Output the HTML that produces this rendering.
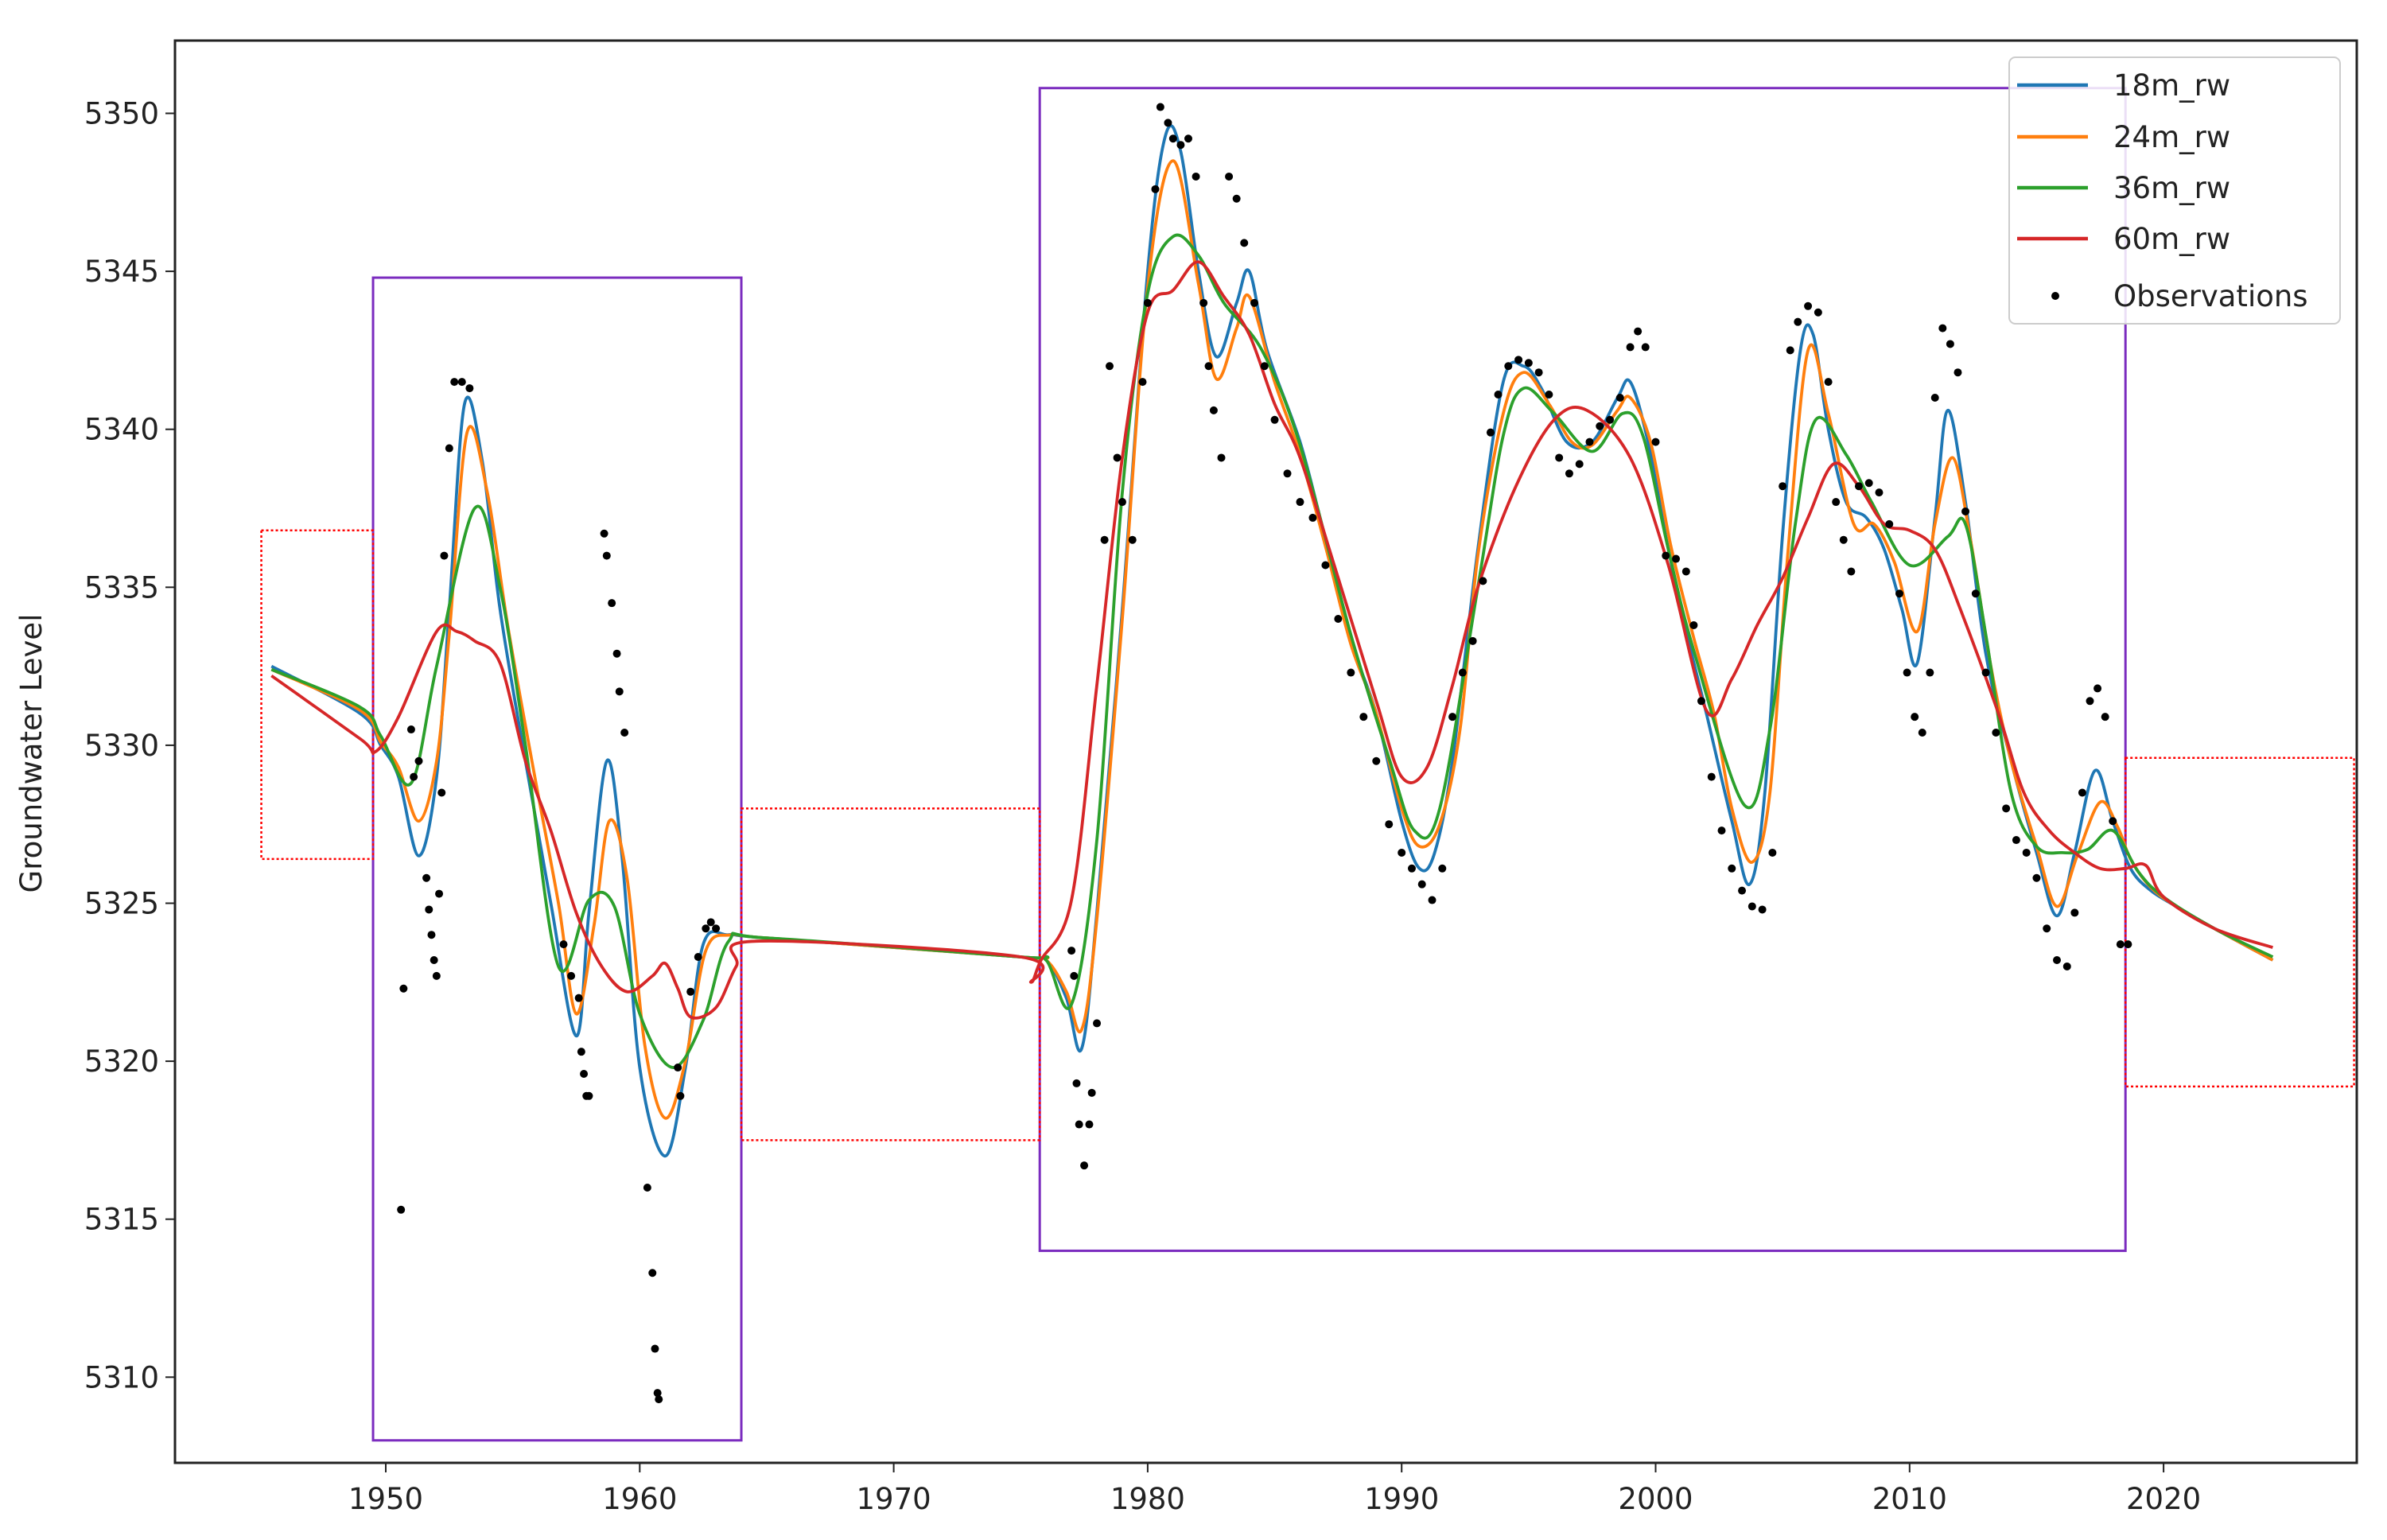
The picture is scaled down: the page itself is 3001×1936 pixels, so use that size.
<!DOCTYPE html>
<html><head><meta charset="utf-8"><style>
html,body{margin:0;padding:0;background:#fff;}
svg{display:block;font-family:"DejaVu Sans","Liberation Sans",sans-serif;}
</style></head><body>
<svg id="chart" width="3001" height="1936" viewBox="0 0 3001 1936" xmlns="http://www.w3.org/2000/svg">
<rect x="0" y="0" width="3001" height="1936" fill="#fff"/>
<g id="plot"></g>
</svg>
<script>
const xTicks=[1950,1960,1970,1980,1990,2000,2010,2020];
const yTicks=[5310,5315,5320,5325,5330,5335,5340,5345,5350];
const seriesNames=['18m_rw','24m_rw','36m_rw','60m_rw'];
const seriesColors=['#1f77b4','#ff7f0e','#2ca02c','#d62728'];
const blueX=[1945.5,1949,1949.8,1950.5,1951.3,1952,1952.5,1953.1,1953.8,1954.5,1955.5,1956.5,1957.5,1958,1958.7,1959.3,1960,1961,1961.8,1962.5,1963.5,1965,1975,1976,1976.8,1977.4,1978,1979,1980,1980.7,1981.3,1982,1982.7,1983.5,1984,1984.7,1986,1987,1988,1989,1990,1990.7,1991.3,1992,1993,1994,1994.8,1995.5,1996.5,1997.5,1998.5,1999,1999.7,2000.5,2001.3,2002,2003,2003.7,2004.3,2005,2005.7,2006.2,2006.8,2007.5,2008.3,2009,2009.7,2010.3,2011,2011.5,2012.2,2013,2014,2015,2015.8,2016.5,2017.3,2018,2018.7,2019.5,2020.5,2022,2024.3];
const blueY=[5332.5,5331.0,5330.0,5329.0,5326.5,5329.0,5334.3,5340.8,5339.0,5334.3,5329.5,5325.0,5320.8,5324.7,5329.5,5326.5,5319.8,5317.0,5319.8,5323.7,5324.0,5323.9,5323.3,5323.2,5322.0,5320.4,5324.7,5334.3,5345.0,5349.3,5348.8,5345.0,5342.3,5344.0,5345.0,5342.5,5339.6,5336.5,5333.3,5331.0,5327.6,5326.1,5326.6,5329.5,5336.2,5341.5,5342.0,5341.3,5339.6,5339.6,5341.0,5341.5,5339.6,5336.2,5333.3,5331.0,5327.6,5325.6,5328.5,5336.7,5342.5,5343.0,5340.0,5337.7,5337.2,5336.2,5334.3,5332.6,5337.2,5340.6,5337.7,5332.9,5329.5,5326.6,5324.6,5326.6,5329.2,5327.6,5326.1,5325.4,5324.9,5324.2,5323.2];
const orangeX=[1945.5,1949,1949.8,1950.5,1951.3,1952,1952.5,1953.2,1954,1954.8,1955.8,1956.8,1957.5,1958.2,1958.8,1959.5,1960.2,1961,1961.8,1962.6,1963.6,1965,1975,1976,1976.8,1977.4,1978,1979,1980,1981,1982,1982.7,1983.5,1984,1985,1986,1987,1988,1989,1990,1990.7,1991.5,1992.3,1993,1994,1994.8,1995.8,1996.7,1997.5,1998.5,1999,1999.8,2000.6,2001.5,2002.3,2003,2003.8,2004.5,2005.2,2006,2006.8,2007.8,2008.6,2009.4,2010.3,2011,2011.7,2012.4,2013.2,2014,2015,2015.8,2016.6,2017.5,2018.2,2018.7,2019.5,2020.5,2022,2024.3];
const orangeY=[5332.4,5331.1,5330.1,5329.3,5327.6,5329.5,5333.5,5339.9,5338.0,5333.8,5329.3,5325.0,5321.5,5324.3,5327.6,5325.8,5320.5,5318.2,5320.0,5323.5,5324.0,5323.9,5323.3,5323.2,5322.2,5321.0,5324.5,5334.0,5344.5,5348.5,5344.6,5341.6,5343.2,5344.2,5341.5,5339.2,5336.3,5333.2,5331.0,5328.0,5326.8,5327.5,5330.5,5336.0,5340.5,5341.8,5340.8,5339.6,5339.5,5340.6,5341.0,5339.6,5336.3,5333.4,5331.0,5328.0,5326.3,5328.5,5336.0,5342.5,5340.5,5337.0,5337.0,5335.8,5333.6,5337.0,5339.1,5336.5,5332.5,5329.5,5326.8,5324.9,5326.5,5328.2,5327.4,5326.4,5325.5,5324.9,5324.2,5323.2];
const greenX=[1945.5,1949,1949.8,1951,1952,1953.5,1954.5,1955.5,1956.8,1958,1959,1960,1961.3,1962.5,1963.5,1965,1975,1976,1977,1978,1979,1980,1981,1982,1983,1984.5,1986,1988,1989.5,1990.5,1991.5,1993,1994,1994.8,1996,1997.5,1998.7,1999.5,2000.5,2001.5,2003.5,2004.5,2005.5,2006.3,2007.5,2008.5,2010,2011.5,2012.2,2013,2014,2015,2016,2017,2018,2019,2020,2022,2024.3];
const greenY=[5332.4,5331.2,5330.3,5328.8,5332.5,5337.5,5335.0,5330.0,5323.0,5325.1,5324.9,5321.5,5319.8,5321.3,5323.8,5323.9,5323.3,5323.2,5321.8,5327.0,5338.0,5344.3,5346.1,5345.5,5344.0,5342.5,5339.5,5333.5,5329.6,5327.3,5328.0,5335.0,5339.8,5341.3,5340.5,5339.3,5340.5,5339.8,5336.2,5333.0,5328.1,5330.5,5337.0,5340.3,5339.2,5337.7,5335.7,5336.6,5337.0,5333.5,5328.5,5326.8,5326.6,5326.7,5327.3,5326.0,5325.2,5324.2,5323.3];
const redX=[1945.5,1949,1949.6,1950.5,1952,1952.8,1953.5,1954.5,1955.5,1956.5,1957.5,1958.5,1959.5,1960.5,1961,1961.5,1962,1963,1963.8,1964.6,1975,1975.4,1975.8,1977,1978,1979,1980,1981,1982,1983,1984,1985,1986,1987.5,1989,1990,1991,1992,1993,1994.5,1996,1997.3,1999,2000.5,2002,2003,2004,2005,2006,2007,2008,2009,2010,2011,2012,2013.5,2014.5,2015.5,2016.5,2017.5,2018.5,2019.3,2020,2022,2024.3];
const redY=[5332.2,5330.2,5329.8,5330.9,5333.6,5333.6,5333.3,5332.6,5329.5,5327.3,5324.7,5323.0,5322.2,5322.7,5323.1,5322.3,5321.4,5321.7,5323.0,5323.8,5323.3,5322.5,5323.2,5325.1,5331.9,5339.1,5343.7,5344.4,5345.3,5344.2,5343.0,5340.8,5339.1,5335.3,5331.4,5329.0,5329.3,5331.9,5335.0,5338.2,5340.3,5340.6,5339.1,5335.7,5331.1,5332.1,5333.8,5335.3,5337.2,5338.9,5338.2,5337.0,5336.8,5336.2,5334.3,5331.0,5328.5,5327.3,5326.6,5326.1,5326.1,5326.2,5325.2,5324.2,5323.6];
const obsX=[1950.6,1950.7,1951.0,1951.1,1951.3,1951.6,1951.7,1951.8,1951.9,1952.0,1952.1,1952.2,1952.3,1952.5,1952.7,1953.0,1953.3,1957.0,1957.3,1957.6,1957.7,1957.8,1957.9,1958.0,1958.6,1958.7,1958.9,1959.1,1959.2,1959.4,1960.3,1960.5,1960.6,1960.7,1960.75,1961.5,1961.6,1962.0,1962.3,1962.6,1962.8,1963.0,1977.0,1977.1,1977.2,1977.3,1977.5,1977.7,1977.8,1978.0,1978.3,1978.5,1978.8,1979.0,1979.4,1979.8,1980.0,1980.3,1980.5,1980.8,1981.0,1981.3,1981.6,1981.9,1982.2,1982.4,1982.6,1982.9,1983.2,1983.5,1983.8,1984.2,1984.6,1985.0,1985.5,1986.0,1986.5,1987.0,1987.5,1988.0,1988.5,1989.0,1989.5,1990.0,1990.4,1990.8,1991.2,1991.6,1992.0,1992.4,1992.8,1993.2,1993.5,1993.8,1994.2,1994.6,1995.0,1995.4,1995.8,1996.2,1996.6,1997.0,1997.4,1997.8,1998.2,1998.6,1999.0,1999.3,1999.6,2000.0,2000.4,2000.8,2001.2,2001.5,2001.8,2002.2,2002.6,2003.0,2003.4,2003.8,2004.2,2004.6,2005.0,2005.3,2005.6,2006.0,2006.4,2006.8,2007.1,2007.4,2007.7,2008.0,2008.4,2008.8,2009.2,2009.6,2009.9,2010.2,2010.5,2010.8,2011.0,2011.3,2011.6,2011.9,2012.2,2012.6,2013.0,2013.4,2013.8,2014.2,2014.6,2015.0,2015.4,2015.8,2016.2,2016.5,2016.8,2017.1,2017.4,2017.7,2018.0,2018.3,2018.6];
const obsY=[5315.3,5322.3,5330.5,5329.0,5329.5,5325.8,5324.8,5324.0,5323.2,5322.7,5325.3,5328.5,5336.0,5339.4,5341.5,5341.5,5341.3,5323.7,5322.7,5322.0,5320.3,5319.6,5318.9,5318.9,5336.7,5336.0,5334.5,5332.9,5331.7,5330.4,5316.0,5313.3,5310.9,5309.5,5309.3,5319.8,5318.9,5322.2,5323.3,5324.2,5324.4,5324.2,5323.5,5322.7,5319.3,5318.0,5316.7,5318.0,5319.0,5321.2,5336.5,5342.0,5339.1,5337.7,5336.5,5341.5,5344.0,5347.6,5350.2,5349.7,5349.2,5349.0,5349.2,5348.0,5344.0,5342.0,5340.6,5339.1,5348.0,5347.3,5345.9,5344.0,5342.0,5340.3,5338.6,5337.7,5337.2,5335.7,5334.0,5332.3,5330.9,5329.5,5327.5,5326.6,5326.1,5325.6,5325.1,5326.1,5330.9,5332.3,5333.3,5335.2,5339.9,5341.1,5342.0,5342.2,5342.1,5341.8,5341.1,5339.1,5338.6,5338.9,5339.6,5340.1,5340.3,5341.0,5342.6,5343.1,5342.6,5339.6,5336.0,5335.9,5335.5,5333.8,5331.4,5329.0,5327.3,5326.1,5325.4,5324.9,5324.8,5326.6,5338.2,5342.5,5343.4,5343.9,5343.7,5341.5,5337.7,5336.5,5335.5,5338.2,5338.3,5338.0,5337.0,5334.8,5332.3,5330.9,5330.4,5332.3,5341.0,5343.2,5342.7,5341.8,5337.4,5334.8,5332.3,5330.4,5328.0,5327.0,5326.6,5325.8,5324.2,5323.2,5323.0,5324.7,5328.5,5331.4,5331.8,5330.9,5327.6,5323.7,5323.7];
const purpleRects=[[1949.5,1964.0,5344.8,5308.0],[1975.75,2018.5,5350.8,5314.0]];
const redRects=[[1945.1,1949.5,5336.8,5326.4],[1964.0,1975.75,5328.0,5317.5],[2018.5,2027.5,5329.6,5319.2]];

const L=220,R=2963,T=51,B=1839;
const xs=v=>485+(v-1950)*31.93;
const ys=v=>142.5+(5350-v)*39.72;
const NS='http://www.w3.org/2000/svg';
const svg=document.getElementById('chart');
function mk(tag,attrs,parent){const e=document.createElementNS(NS,tag);for(const k in attrs)e.setAttribute(k,attrs[k]);(parent||svg).appendChild(e);return e;}
function pathFrom(X,Y){
  const p=X.map((x,i)=>[xs(x),ys(Y[i])]);
  let d='M'+p[0][0].toFixed(1)+','+p[0][1].toFixed(1);
  for(let i=0;i<p.length-1;i++){
    const p0=p[Math.max(0,i-1)],p1=p[i],p2=p[i+1],p3=p[Math.min(p.length-1,i+2)];
    const c1x=p1[0]+(p2[0]-p0[0])/6,c1y=p1[1]+(p2[1]-p0[1])/6;
    const c2x=p2[0]-(p3[0]-p1[0])/6,c2y=p2[1]-(p3[1]-p1[1])/6;
    d+=' C'+c1x.toFixed(1)+','+c1y.toFixed(1)+' '+c2x.toFixed(1)+','+c2y.toFixed(1)+' '+p2[0].toFixed(1)+','+p2[1].toFixed(1);
  }
  return d;
}
purpleRects.forEach(r=>{
  const e=mk('rect',{x:xs(r[0]),y:ys(r[2]),width:xs(r[1])-xs(r[0]),height:ys(r[3])-ys(r[2]),fill:'none',stroke:'#7b2cbf','stroke-width':3});
  
  
});
redRects.forEach(r=>{
  const e=mk('rect',{x:xs(r[0]),y:ys(r[2]),width:xs(r[1])-xs(r[0]),height:ys(r[3])-ys(r[2]),fill:'none',stroke:'#ff0000','stroke-width':2.5,'stroke-dasharray':'3,3'});
  
  
});
const SX=[blueX,orangeX,greenX,redX],SY=[blueY,orangeY,greenY,redY];
SX.forEach((X,i)=>{
  const e=mk('path',{d:pathFrom(X,SY[i]),fill:'none',stroke:seriesColors[i],'stroke-width':3.8,'stroke-linejoin':'round'});
  
  
});
obsX.forEach((x,i)=>{
  const e=mk('circle',{cx:xs(x),cy:ys(obsY[i]),r:5,fill:'#000'});
  
  
});
const fr=mk('rect',{x:L,y:T,width:R-L,height:B-T,fill:'none',stroke:'#222','stroke-width':3});


xTicks.forEach(t=>{
  const x=xs(t);
  const tk=mk('line',{x1:x,y1:B,x2:x,y2:B+12,stroke:'#222','stroke-width':2});
  
  
  const tx=mk('text',{x:x,y:1897,'text-anchor':'middle','font-size':37,fill:'#222'});
  tx.textContent=t;
  
  
});
yTicks.forEach(t=>{
  const y=ys(t);
  const tk=mk('line',{x1:L-12,y1:y,x2:L,y2:y,stroke:'#222','stroke-width':2});
  
  
  const tx=mk('text',{x:L-20,y:y+13,'text-anchor':'end','font-size':37,fill:'#222'});
  tx.textContent=t;
  
  
});
const yt=mk('text',{x:0,y:0,transform:'translate(52,947) rotate(-90)','text-anchor':'middle','font-size':37,fill:'#222'});
yt.textContent='Groundwater Level';


const lg=mk('g',{});


const lb=mk('rect',{x:2526,y:72,width:416,height:335,rx:8,fill:'#fff','fill-opacity':0.85,stroke:'#ccc','stroke-width':2},lg);


const ly=[107,172,236,300];
seriesNames.forEach((n,i)=>{
  const ln=mk('line',{x1:2536,y1:ly[i],x2:2625,y2:ly[i],stroke:seriesColors[i],'stroke-width':4.5},lg);
  
  
  const tx=mk('text',{x:2657,y:ly[i]+13,'font-size':37,fill:'#222'},lg);
  tx.textContent=n;
  
  
});
const oc=mk('circle',{cx:2584,cy:372,r:5,fill:'#000'},lg);


const ot=mk('text',{x:2657,y:385,'font-size':37,fill:'#222'},lg);
ot.textContent='Observations';


</script>
</body></html>
